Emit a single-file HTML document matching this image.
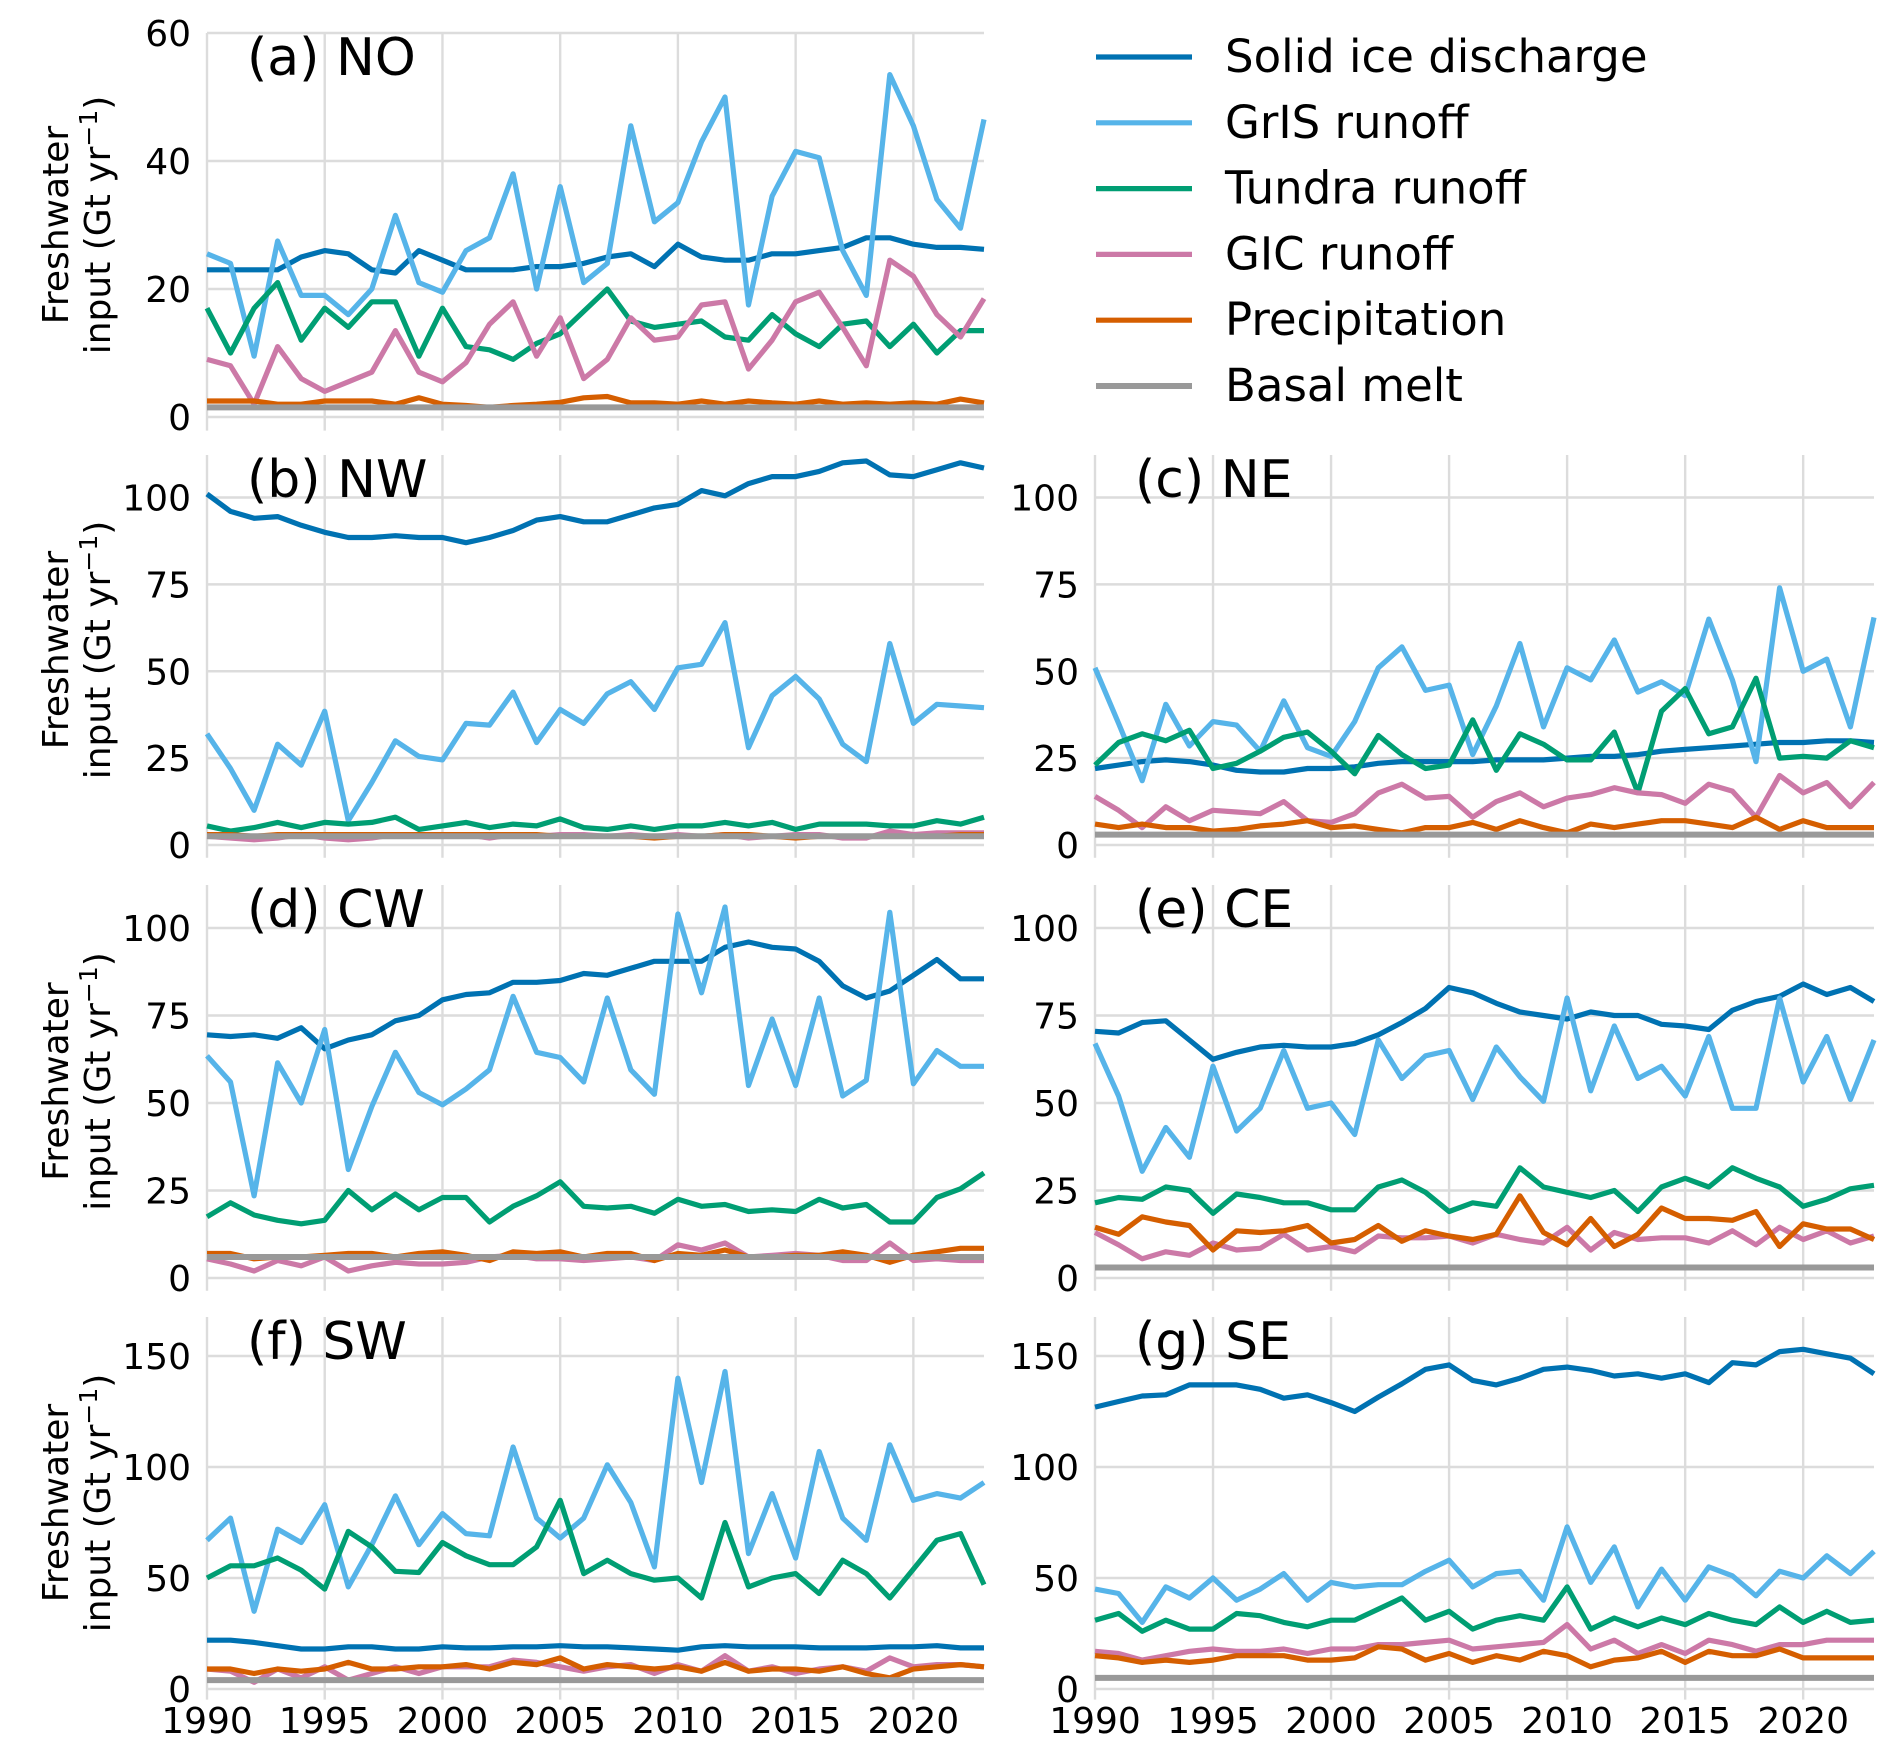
<!DOCTYPE html>
<html><head><meta charset="utf-8"><style>
html,body{margin:0;padding:0;background:#fff}
svg{display:block}
text{font-family:"DejaVu Sans","Liberation Sans",sans-serif;fill:#000}
</style></head><body>
<svg id="chart" xmlns="http://www.w3.org/2000/svg" width="1892" height="1749" viewBox="0 0 1892 1749"></svg>
<script>
const years = [1990,1991,1992,1993,1994,1995,1996,1997,1998,1999,2000,2001,2002,2003,2004,2005,2006,2007,2008,2009,2010,2011,2012,2013,2014,2015,2016,2017,2018,2019,2020,2021,2022,2023];
const seriesNames = ["Solid ice discharge","GrIS runoff","Tundra runoff","GIC runoff","Precipitation","Basal melt"];
const xTicks = [1990,1995,2000,2005,2010,2015,2020];

// (a) NO
const noIce = [23,23,23,23,25,26,25.5,23,22.5,26,24.5,23,23,23,23.5,23.5,24,25,25.5,23.5,27,25,24.5,24.5,25.5,25.5,26,26.5,28,28,27,26.5,26.5,26.2];
const noGris = [25.5,24,9.5,27.5,19,19,16,20,31.5,21,19.5,26,28,38,20,36,21,24,45.5,30.5,33.5,43,50,17.5,34.5,41.5,40.5,26,19,53.5,45.5,34,29.5,46.5];
const noTundra = [17,10,17,21,12,17,14,18,18,9.5,17,11,10.5,9,11.5,13,16.5,20,15,14,14.5,15,12.5,12,16,13,11,14.5,15,11,14.5,10,13.5,13.5];
const noGic = [9,8,2,11,6,4,5.5,7,13.5,7,5.5,8.5,14.5,18,9.5,15.5,6,9,15.5,12,12.5,17.5,18,7.5,12,18,19.5,14,8,24.5,22,16,12.5,18.5];
const noPrecip = [2.5,2.5,2.5,2,2,2.5,2.5,2.5,2,3,2,1.8,1.5,1.8,2,2.3,3,3.2,2.2,2.2,2,2.5,2,2.5,2.2,2,2.5,2,2.2,2,2.2,2,2.8,2.2];
const noBasal = [1.5,1.5,1.5,1.5,1.5,1.5,1.5,1.5,1.5,1.5,1.5,1.5,1.5,1.5,1.5,1.5,1.5,1.5,1.5,1.5,1.5,1.5,1.5,1.5,1.5,1.5,1.5,1.5,1.5,1.5,1.5,1.5,1.5,1.5];
// (b) NW
const nwIce = [101,96,94,94.5,92,90,88.5,88.5,89,88.5,88.5,87,88.5,90.5,93.5,94.5,93,93,95,97,98,102,100.5,104,106,106,107.5,110,110.5,106.5,106,108,110,108.5];
const nwGris = [32,22,10,29,23,38.5,7,18,30,25.5,24.5,35,34.5,44,29.5,39,35,43.5,47,39,51,52,64,28,43,48.5,42,29,24,58,35,40.5,40,39.5];
const nwTundra = [5.5,4,5,6.5,5,6.5,6,6.5,8,4.5,5.5,6.5,5,6,5.5,7.5,5,4.5,5.5,4.5,5.5,5.5,6.5,5.5,6.5,4.5,6,6,6,5.5,5.5,7,6,8];
const nwGic = [2.5,2,1.5,2,3,2,1.5,2,3,2.5,3,3,2,3,2.5,3,3,2.5,3,2.5,3,2.5,3,2,2.5,3,3,2,2,4,3,3.5,3.5,3.5];
const nwPrecip = [3,3,2.5,3,3,3,3,3,3,3,3,3,3,3,3,2.5,2.5,2.5,2.5,2,2.5,2.5,3,3,2.5,2,2.5,2.5,2.5,2.5,2.5,2.5,3,3];
const nwBasal = [2.5,2.5,2.5,2.5,2.5,2.5,2.5,2.5,2.5,2.5,2.5,2.5,2.5,2.5,2.5,2.5,2.5,2.5,2.5,2.5,2.5,2.5,2.5,2.5,2.5,2.5,2.5,2.5,2.5,2.5,2.5,2.5,2.5,2.5];
// (c) NE
const neIce = [22,23,24,24.5,24,23,21.5,21,21,22,22,22.5,23.5,24,24,24,24,24.5,24.5,24.5,25,25.5,25.5,26,27,27.5,28,28.5,29,29.5,29.5,30,30,29.5];
const neGris = [51,35,18.5,40.5,28.5,35.5,34.5,27,41.5,28,25.5,35.5,51,57,44.5,46,26,40,58,34,51,47.5,59,44,47,43,65,47.5,24,74,50,53.5,34,65.5];
const neTundra = [23,29.5,32,30,33,22,23.5,27,31,32.5,27,20.5,31.5,26,22,23,36,21.5,32,29,24.5,24.5,32.5,15,38.5,45,32,34,48,25,25.5,25,30,28];
const neGic = [14,10,5,11,7,10,9.5,9,12.5,7,6.5,9,15,17.5,13.5,14,8,12.5,15,11,13.5,14.5,16.5,15,14.5,12,17.5,15.5,8,20,15,18,11,18];
const nePrecip = [6,5,6,5,5,4,4.5,5.5,6,7,5,5.5,4.5,3.5,5,5,6.5,4.5,7,5,3.5,6,5,6,7,7,6,5,8,4.5,7,5,5,5];
const neBasal = [3,3,3,3,3,3,3,3,3,3,3,3,3,3,3,3,3,3,3,3,3,3,3,3,3,3,3,3,3,3,3,3,3,3];
// (d) CW
const cwIce = [69.5,69,69.5,68.5,71.5,65.5,68,69.5,73.5,75,79.5,81,81.5,84.5,84.5,85,87,86.5,88.5,90.5,90.5,90.5,94.5,96,94.5,94,90.5,83.5,80,82,86.5,91,85.5,85.5];
const cwGris = [63.5,56,23.5,61.5,50,71,31,49,64.5,53,49.5,54,59.5,80.5,64.5,63,56,80,59.5,52.5,104,81.5,106,55,74,55,80,52,56.5,104.5,55.5,65,60.5,60.5];
const cwTundra = [17.5,21.5,18,16.5,15.5,16.5,25,19.5,24,19.5,23,23,16,20.5,23.5,27.5,20.5,20,20.5,18.5,22.5,20.5,21,19,19.5,19,22.5,20,21,16,16,23,25.5,30];
const cwGic = [5.5,4,2,5,3.5,6,2,3.5,4.5,4,4,4.5,6,6.5,5.5,5.5,5,5.5,6,5,9.5,8,10,6,6.5,7,6.5,5,5,10,5,5.5,5,5];
const cwPrecip = [7,7,5.5,6,6,6.5,7,7,6,7,7.5,6.5,5,7.5,7,7.5,6,7,7,5,7,6.5,8,6,6,6.5,6.5,7.5,6.5,4.5,6.5,7.5,8.5,8.5];
const cwBasal = [6,6,6,6,6,6,6,6,6,6,6,6,6,6,6,6,6,6,6,6,6,6,6,6,6,6,6,6,6,6,6,6,6,6];
// (e) CE
const ceIce = [70.5,70,73,73.5,68,62.5,64.5,66,66.5,66,66,67,69.5,73,77,83,81.5,78.5,76,75,74,76,75,75,72.5,72,71,76.5,79,80.5,84,81,83,79];
const ceGris = [67,52,30.5,43,34.5,60.5,42,48.5,65,48.5,50,41,68,57,63.5,65,51,66,57.5,50.5,80,53.5,72,57,60.5,52,69,48.5,48.5,80,56,69,51,68];
const ceTundra = [21.5,23,22.5,26,25,18.5,24,23,21.5,21.5,19.5,19.5,26,28,24.5,19,21.5,20.5,31.5,26,24.5,23,25,19,26,28.5,26,31.5,28.5,26,20.5,22.5,25.5,26.5];
const ceGic = [13,9.5,5.5,7.5,6.5,10,8,8.5,12.5,8,9,7.5,12,11.5,11.5,12,10,12.5,11,10,14.5,8,13,11,11.5,11.5,10,13.5,9.5,14.5,11,13.5,10,12];
const cePrecip = [14.5,12.5,17.5,16,15,8,13.5,13,13.5,15,10,11,15,10.5,13.5,12,11,12.5,23.5,13,9.5,17,9,12.5,20,17,17,16.5,19,9,15.5,14,14,11];
const ceBasal = [3,3,3,3,3,3,3,3,3,3,3,3,3,3,3,3,3,3,3,3,3,3,3,3,3,3,3,3,3,3,3,3,3,3];
// (f) SW
const swIce = [22,22,21,19.5,18,18,19,19,18,18,19,18.5,18.5,19,19,19.5,19,19,18.5,18,17.5,19,19.5,19,19,19,18.5,18.5,18.5,19,19,19.5,18.5,18.5];
const swGris = [67,77,35,72,66,83,46,65,87,65,79,70,69,109,77,68,77,101,84,55,140,93,143,61,88,59,107,77,67,110,85,88,86,93];
const swTundra = [50,55.5,55.5,59,53.5,45,71,64,53,52.5,66,60,56,56,64,85,52,58,52,49,50,41,75,46,50,52,43,58,52,41,54,67,70,47];
const swGic = [9,8,3,9,5,10,4,7,10,7,10,10,10,13,12,10,8,10,11,7,11,8,15,8,10,7,9,10,8,14,10,11,11,10];
const swPrecip = [9,9,7,9,8,9,12,9,9,10,10,11,9,12,11,14,9,11,10,9,10,8,12,8,9,9,8,10,7,5,9,10,11,10];
const swBasal = [4,4,4,4,4,4,4,4,4,4,4,4,4,4,4,4,4,4,4,4,4,4,4,4,4,4,4,4,4,4,4,4,4,4];
// (g) SE
const seIce = [127,129.5,132,132.5,137,137,137,135,131,132.5,129,125,131.5,137.5,144,146,139,137,140,144,145,143.5,141,142,140,142,138,147,146,152,153,151,149,142];
const seGris = [45,43,30,46,41,50,40,45,52,40,48,46,47,47,53,58,46,52,53,40,73,48,64,37,54,40,55,51,42,53,50,60,52,62];
const seTundra = [31,34,26,31,27,27,34,33,30,28,31,31,36,41,31,35,27,31,33,31,46,27,32,28,32,29,34,31,29,37,30,35,30,31];
const seGic = [17,16,13,15,17,18,17,17,18,16,18,18,20,20,21,22,18,19,20,21,29,18,22,16,20,16,22,20,17,20,20,22,22,22];
const sePrecip = [15,14,12,13,12,13,15,15,15,13,13,14,19,18,13,16,12,15,13,17,15,10,13,14,17,12,17,15,15,18,14,14,14,14];
const seBasal = [5,5,5,5,5,5,5,5,5,5,5,5,5,5,5,5,5,5,5,5,5,5,5,5,5,5,5,5,5,5,5,5,5,5];

const ticksA = [0,20,40,60];
const ticksB = [0,25,50,75,100];
const ticksF = [0,50,100,150];

const NS = "http://www.w3.org/2000/svg";
const svg = document.getElementById("chart");
const colors = ["#0072B2","#56B4E9","#009E73","#CC79A7","#D55E00","#999999"];
function el(tag, attrs, parent, txt){
  const e = document.createElementNS(NS, tag);
  for (const k in attrs) e.setAttribute(k, attrs[k]);
  if (txt !== undefined) e.textContent = txt;
  (parent || svg).appendChild(e);
  return e;
}
const panels = [
  {id:"a", title:"(a) NO", left:207, right:984, top:33, y0:417, k:6.4, vmin:-1.5, vmax:60, ticks:ticksA, series:[noIce,noGris,noTundra,noGic,noPrecip,noBasal], ylab:true, xlab:false},
  {id:"b", title:"(b) NW", left:207, right:984, top:455, y0:845, k:3.475, vmin:-2.5, vmax:112, ticks:ticksB, series:[nwIce,nwGris,nwTundra,nwGic,nwPrecip,nwBasal], ylab:true, xlab:false},
  {id:"c", title:"(c) NE", left:1095, right:1874, top:455, y0:845, k:3.475, vmin:-2.5, vmax:112, ticks:ticksB, series:[neIce,neGris,neTundra,neGic,nePrecip,neBasal], ylab:false, xlab:false},
  {id:"d", title:"(d) CW", left:207, right:984, top:885, y0:1278, k:3.5, vmin:-2.5, vmax:112, ticks:ticksB, series:[cwIce,cwGris,cwTundra,cwGic,cwPrecip,cwBasal], ylab:true, xlab:false},
  {id:"e", title:"(e) CE", left:1095, right:1874, top:885, y0:1278, k:3.5, vmin:-2.5, vmax:112, ticks:ticksB, series:[ceIce,ceGris,ceTundra,ceGic,cePrecip,ceBasal], ylab:false, xlab:false},
  {id:"f", title:"(f) SW", left:207, right:984, top:1317, y0:1689, k:2.22, vmin:-3, vmax:167, ticks:ticksF, series:[swIce,swGris,swTundra,swGic,swPrecip,swBasal], ylab:true, xlab:true},
  {id:"g", title:"(g) SE", left:1095, right:1874, top:1317, y0:1689, k:2.22, vmin:-3, vmax:167, ticks:ticksF, series:[seIce,seGris,seTundra,seGic,sePrecip,seBasal], ylab:false, xlab:true}
];
panels.forEach(p => {
  const g = el("g", {});
  
  
  const pxYear = (p.right - p.left) / 33;
  const X = yr => p.left + (yr - 1990) * pxYear;
  const Y = v => p.y0 - v * p.k;
  const bottom = Y(p.vmin);
  xTicks.forEach(t => {
    const l = el("line", {x1:X(t), x2:X(t), y1:p.top, y2:bottom + 4, stroke:"#dcdcdc", "stroke-width":2.4}, g);
    
    
  });
  p.ticks.forEach(t => {
    const l = el("line", {x1:p.left, x2:p.right, y1:Y(t), y2:Y(t), stroke:"#dcdcdc", "stroke-width":2.4}, g);
    
    
    const tx = el("text", {x:p.left - 16, y:Y(t) + 13, "text-anchor":"end", "font-size":36}, g, String(t));
    
    
  });
  if (p.xlab) {
    xTicks.forEach(t => {
      const tx = el("text", {x:X(t), y:1733, "text-anchor":"middle", "font-size":36}, g, String(t));
      
      
    });
  }
  p.series.forEach((arr, i) => {
    const pts = arr.map((v, j) => X(years[j]).toFixed(1) + "," + Y(v).toFixed(1)).join(" ");
    const pl = el("polyline", {points:pts, fill:"none", stroke:colors[i], "stroke-width": i === 5 ? 6 : 5.2, "stroke-linejoin":"round"}, g);
    
    
  });
  const tt = el("text", {x:p.left + 40, y:p.top + 42, "font-size":52}, g, p.title);
  
  
  if (p.ylab) {
    const cy = (p.top + p.y0) / 2;
    const yl = el("text", {transform:"translate(68," + cy + ") rotate(-90)", "text-anchor":"middle", "font-size":36}, g);
    
    
    el("tspan", {x:0, y:0}, yl, "Freshwater");
    el("tspan", {x:0, y:42}, yl, "input (Gt yr");
    el("tspan", {dy:-13, "font-size":25}, yl, "\u22121");
    el("tspan", {dy:13}, yl, ")");
  }
});
const lg = el("g", {});


seriesNames.forEach((n, i) => {
  const y = 57 + i * 65.8;
  const ln = el("line", {x1:1096, x2:1192, y1:y, y2:y, stroke:colors[i], "stroke-width": i === 5 ? 6 : 5.2}, lg);
  
  
  const t = el("text", {x:1225, y:y + 15, "font-size":45}, lg, n);
  
  
});
</script>
</body></html>
